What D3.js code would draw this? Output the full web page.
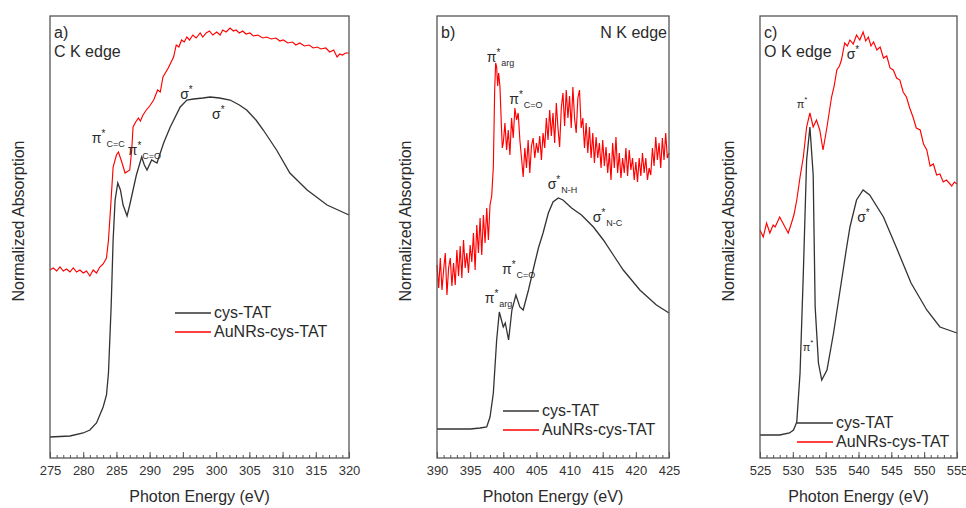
<!DOCTYPE html>
<html>
<head>
<meta charset="utf-8">
<script src="https://cdn.jsdelivr.net/npm/d3@7"></script>
<style>
  body { margin: 0; background: #fff; }
  text { font-family: "Liberation Sans", Arial, sans-serif; fill: #2a2a2a; }
  .tick text { font-size: 13px; fill: #333; }
  .axis_label { font-size: 16px; }
  .legend_label { font-size: 16px; }
  .panel_label { font-size: 16px; }
  .frame { fill: none; stroke: #555; stroke-width: 1.3; }
</style>
</head>
<body>
<script>
var width = 966, height = 508;
var top_ = 16, bottom = 458;

// value axis is arbitrary (normalized absorption, a.u. 0..442)
var yMax = 442;

// ---- C K edge ----
var cKEnergyTicks = [275, 280, 285, 290, 295, 300, 305, 310, 315, 320];
var cysTAT_C = [[275,21],[278,22],[280,25],[281,28],[282,35],[283,51],[283.5,63],[283.8,85],[284.2,151],[284.5,218],
  [284.8,258],[285.2,275],[285.6,268],[286.0,253],[286.6,242],[287.0,253],[287.5,268],[288.0,283],[288.8,301],[289.2,293],
  [289.6,288],[290.3,298],[291.1,295],[292.1,315],[293.1,331],[294.6,351],[295.6,358],[296.6,359],[298,360],[299.1,361],
  [300.5,360],[302.1,358],[303.5,353],[304.6,348],[306,338],[307.1,328],[309.1,308],[311.1,285],[313.7,268],[316.7,253],[320,243]];
var auNRs_C = [[275,188],[275.5,190],[276,187],[276.5,191],[277,187],[277.5,189],[278,186],[278.5,190],[279,186],[279.5,188],
  [280,185],[280.5,187],[281,182],[281.5,188],[282,185],[282.5,191],[283,194],[283.5,200],[283.8,218],[284.1,248],
  [284.5,291],[285.0,303],[285.3,306],[285.8,296],[286.3,285],[287,288],[287.3,308],[287.5,331],[287.9,336],[288.3,340],
  [288.6,337],[289,343],[289.5,348],[290.0,352],[290.6,358],[291.2,368],[291.6,366],[292,381],[292.8,390],[293.6,401],
  [294,413],[294.4,411],[294.8,418],[295.2,416],[295.6,421],[296,418],[296.5,423],[297,420],[297.6,425],[298,421],[298.5,425],
  [299,427],[299.5,423],[300.1,426],[300.6,423],[301,428],[301.5,426],[302.1,430],[302.6,427],[303,428],[303.5,425],[304,427],
  [304.5,424],[305.1,425],[305.6,422],[306.3,423],[307,420],[307.6,421],[308.3,419],[309,420],[309.6,417],[310.1,418],
  [310.8,415],[311.5,416],[312,413],[312.6,415],[313.3,412],[314,413],[314.6,410],[315.2,411],[315.8,409],[316.5,410],
  [317.1,406],[317.7,408],[318.2,401],[318.6,404],[319,403],[319.5,405],[320,405]];

// ---- N K edge ----
var nKEnergyTicks = [390, 395, 400, 405, 410, 415, 420, 425];
var cysTAT_N = [[390,29],[395,29],[396.5,30],[397.5,31],[398,41],[398.5,65],[399,118],[399.4,146],[400.0,131],[400.3,135],
  [400.8,118],[401.3,148],[401.9,163],[402.5,151],[403,148],[403.8,168],[404.5,188],[405.3,210],[406.0,225],[406.8,245],
  [407.5,256],[408.3,260],[409.0,258],[410.3,250],[411.8,243],[413.6,231],[415.1,218],[416.6,203],[418.1,188],[420.6,168],
  [423.1,153],[425,145]];
var auNRs_N = [[390,193],[390.25,170],[390.5,200],[390.75,168],[391,188],[391.25,205],[391.5,163],[391.75,190],[392,200],
  [392.25,172],[392.5,195],[392.75,173],[393,208],[393.25,182],[393.5,212],[393.75,180],[394,218],[394.25,190],[394.5,205],
  [394.75,185],[395,213],[395.25,196],[395.5,225],[395.75,188],[396,233],[396.25,205],[396.5,240],[396.75,203],[397,243],
  [397.25,215],[397.5,250],[397.75,218],[398,253],[398.25,262],[398.5,291],[398.7,368],[398.85,395],[399,391],[399.15,372],
  [399.3,385],[399.5,371],[399.7,335],[399.85,310],[400,315],[400.25,335],[400.5,308],[400.75,328],[401,303],[401.25,340],
  [401.5,320],[401.75,350],[402,338],[402.25,345],[402.5,318],[402.75,300],[403,281],[403.25,310],[403.5,290],[403.75,318],
  [404,285],[404.25,312],[404.5,320],[404.75,300],[405,315],[405.25,305],[405.5,322],[405.75,298],[406,325],[406.25,310],
  [406.5,340],[406.75,318],[407,348],[407.25,322],[407.5,345],[407.75,315],[408,355],[408.25,330],[408.5,311],[408.75,350],
  [409,365],[409.25,332],[409.5,368],[409.75,340],[410,362],[410.25,330],[410.5,371],[410.75,340],[411,325],[411.25,360],
  [411.5,368],[411.75,330],[412,340],[412.25,310],[412.5,335],[412.75,305],[413,331],[413.25,300],[413.5,325],[413.75,295],
  [414,321],[414.25,300],[414.5,315],[414.75,290],[415,318],[415.25,292],[415.5,311],[415.75,285],[416,305],[416.25,278],
  [416.5,315],[416.75,290],[417,321],[417.25,285],[417.5,305],[417.75,280],[418,300],[418.25,285],[418.5,310],[418.75,282],
  [419,308],[419.25,288],[419.5,300],[419.75,278],[420,296],[420.25,276],[420.5,300],[420.75,282],[421,305],[421.25,285],
  [421.5,300],[421.75,278],[422,290],[422.25,283],[422.5,310],[422.75,292],[423,321],[423.25,298],[423.5,315],[423.75,290],
  [424,320],[424.25,298],[424.5,325],[424.75,300],[425,305]];

// ---- O K edge ----
var oKEnergyTicks = [525, 530, 535, 540, 545, 550, 555];
var cysTAT_O = [[525,23],[528,23],[529.5,25],[530.1,28],[530.6,36],[531.1,85],[531.6,185],[532.1,298],[532.6,331],[533.1,283],
  [533.4,151],[533.9,95],[534.4,78],[535.2,88],[536.2,125],[537.2,168],[538.2,211],[538.7,231],[539.7,258],[540.7,268],
  [541.7,263],[543.8,241],[545.8,210],[548,175],[550.4,148],[552.4,131],[555,125]];
var auNRs_O = [[525,228],[525.5,221],[526,235],[526.5,225],[527,233],[527.3,231],[528,241],[528.4,236],[528.8,231],[529.3,225],
  [529.8,235],[530.2,244],[530.6,258],[531.1,281],[531.6,301],[532.1,331],[532.6,345],[533.1,331],[533.6,338],[534.1,328],
  [534.6,308],[535.2,331],[535.9,361],[536.3,372],[536.7,388],[537.1,392],[537.4,398],[537.9,415],[538.3,412],[538.7,418],
  [539.2,414],[539.7,423],[540.2,418],[540.7,426],[541.1,417],[541.5,421],[541.9,412],[542.3,416],[542.8,408],[543.3,411],
  [543.8,400],[544.3,402],[544.8,390],[545.3,388],[545.8,380],[546.3,378],[546.8,366],[547.3,361],[547.8,350],[548.3,341],
  [548.8,330],[549.4,328],[549.9,314],[550.4,308],[550.9,292],[551.4,294],[551.9,283],[552.4,284],[552.9,276],[553.4,278],
  [554.2,272],[554.6,276],[555,274]];

var seriesNames = ["cys-TAT", "AuNRs-cys-TAT"];
var seriesColors = ["#333333", "#ff0000"];

// annotations: [energy, value, main, sub]
var annC = [[281.3,315,"π","C=C"],[286.7,303,"π","C=O"],[294.6,359,"σ",""],[299.4,339,"σ",""]];
var annN = [[397.5,396,"π","arg"],[400.9,354,"π","C=O"],[406.7,269,"σ","N-H"],[413.5,236,"σ","N-C"],
  [399.8,184,"π","C=O"],[397.2,155,"π","arg"]];
var annO = [[538.2,399,"σ",""],[530.6,350,"π",""],[539.8,236,"σ",""],[531.5,107,"π",""]];

var panels = [
  {left: 50, right: 349, domain: [275, 320], ticks: cKEnergyTicks, black: cysTAT_C, red: auNRs_C, ann: annC,
   tag: "a)", edge: "C K edge", edgeRight: false, legX: 125, legY: 313},
  {left: 437, right: 669, domain: [390, 425], ticks: nKEnergyTicks, black: cysTAT_N, red: auNRs_N, ann: annN,
   tag: "b)", edge: "N K edge", edgeRight: true, legX: 66, legY: 411},
  {left: 760, right: 957, domain: [525, 555], ticks: oKEnergyTicks, black: cysTAT_O, red: auNRs_O, ann: annO,
   tag: "c)", edge: "O K edge", edgeRight: false, legX: 37, legY: 423}
];

var svg = d3.select("body").append("svg")
  .attr("width", width)
  .attr("height", height);

panels.forEach(function(p) {
  var xScale = d3.scaleLinear().domain(p.domain).range([p.left, p.right]);
  var yScale = d3.scaleLinear().domain([0, yMax]).range([bottom, top_]);

  var line = d3.line()
    .x(function(d) { return xScale(d[0]); })
    .y(function(d) { return yScale(d[1]); });

  var g = svg.append("g");

  // minor ticks every 1 eV
  var minor = d3.range(p.domain[0], p.domain[1] + 0.5, 1);
  g.append("g")
    .attr("transform", "translate(0," + bottom + ")")
    .call(d3.axisBottom(xScale).tickValues(minor).tickSize(-3).tickFormat(""))
    .call(function(a) { a.select(".domain").remove(); a.selectAll("line").attr("stroke", "#555"); });

  // major ticks + labels
  g.append("g")
    .attr("transform", "translate(0," + bottom + ")")
    .call(d3.axisBottom(xScale).tickValues(p.ticks).tickSize(-6).tickPadding(8).tickFormat(d3.format("d")))
    .call(function(a) { a.select(".domain").remove(); a.selectAll("line").attr("stroke", "#555"); });

  // curves
  g.append("path").datum(p.red)
    .attr("d", line).attr("fill", "none")
    .attr("stroke", seriesColors[1]).attr("stroke-width", 1.15);
  g.append("path").datum(p.black)
    .attr("d", line).attr("fill", "none")
    .attr("stroke", seriesColors[0]).attr("stroke-width", 1.3);

  // frame
  g.append("rect").attr("class", "frame")
    .attr("x", p.left).attr("y", top_)
    .attr("width", p.right - p.left).attr("height", bottom - top_);

  // panel tag and edge
  g.append("text").attr("class", "panel_label")
    .attr("x", p.left + 4).attr("y", top_ + 22).text(p.tag);
  if (p.edgeRight) {
    g.append("text").attr("class", "panel_label")
      .attr("x", p.right - 2).attr("y", top_ + 22)
      .attr("text-anchor", "end").text(p.edge);
  } else {
    g.append("text").attr("class", "panel_label")
      .attr("x", p.left + 4).attr("y", top_ + 41).text(p.edge);
  }

  // annotations
  p.ann.forEach(function(a) {
    var small = (p.tag == "c)" && a[2] == "π");
    var t = g.append("text")
      .attr("x", xScale(a[0])).attr("y", yScale(a[1]))
      .style("font-size", small ? "11px" : "14px");
    t.append("tspan").text(a[2]);
    t.append("tspan").attr("dy", -6).style("font-size", small ? "8px" : "10px").text("*");
    if (a[3]) {
      t.append("tspan").attr("dy", 10).attr("dx", 1).style("font-size", "9px").text(a[3]);
    }
  });

  // axis labels
  g.append("text").attr("class", "axis_label")
    .attr("transform", "translate(" + (p.left - 32) + "," + 221 + ") rotate(270)")
    .attr("text-anchor", "middle")
    .attr("dy", "0.35em")
    .text("Normalized Absorption");

  g.append("text").attr("class", "axis_label")
    .attr("x", (p.left + p.right) / 2).attr("y", 502)
    .attr("text-anchor", "middle")
    .text("Photon Energy (eV)");

  // legend
  var legend = g.selectAll(".leg").data(seriesNames).enter().append("g");
  legend.append("line")
    .attr("x1", p.left + p.legX).attr("x2", p.left + p.legX + 36)
    .attr("y1", function(d, i) { return p.legY + 19 * i; })
    .attr("y2", function(d, i) { return p.legY + 19 * i; })
    .attr("stroke", function(d, i) { return seriesColors[i]; })
    .attr("stroke-width", 1.3);
  legend.append("text").attr("class", "legend_label")
    .attr("x", p.left + p.legX + 39)
    .attr("y", function(d, i) { return p.legY + 19 * i + 5; })
    .text(function(d) { return d; });
});
</script>
</body>
</html>
